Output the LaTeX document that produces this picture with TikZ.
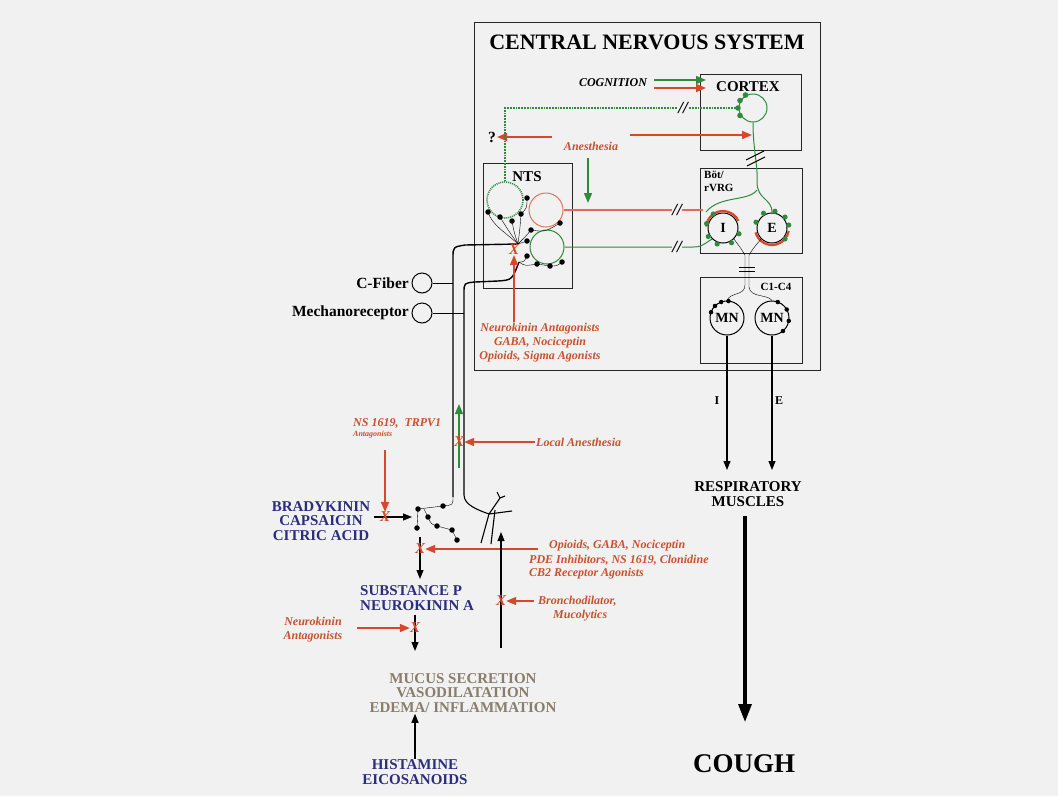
\documentclass[tikz,border=0pt]{standalone}
\usepackage{fontspec}
\setmainfont{Liberation Serif}
\usepackage{tikz}
\usetikzlibrary{arrows.meta,positioning,calc}
\definecolor{bgcol}{HTML}{F1F1F1}
\definecolor{drugred}{HTML}{C9512C}
\definecolor{arrred}{HTML}{D8472A}
\definecolor{nervgreen}{HTML}{2E8B3E}
\definecolor{agentblue}{HTML}{2C2D7E}
\definecolor{mucusgray}{HTML}{8A7D6B}

\begin{document}
\begin{tikzpicture}[x=1pt, y=-1pt,
    region/.style={draw=black!85, line width=1pt, inner sep=0pt},
    cnstitle/.style={font=\fontsize{22}{24}\selectfont\bfseries},
    lbl/.style={font=\fontsize{15.5}{17}\selectfont\bfseries, inner sep=1pt},
    small/.style={font=\fontsize{11}{12.5}\selectfont\bfseries, inner sep=1pt},
    agent/.style={font=\fontsize{15}{14.5}\selectfont\bfseries, text=agentblue, align=center, inner sep=1pt},
    drug/.style={font=\fontsize{12}{14}\selectfont\bfseries\itshape, text=drugred, align=center, inner sep=1pt},
    nrn/.style={circle, draw, line width=1pt, minimum size=30pt, inner sep=0pt, font=\fontsize{14}{14}\selectfont\bfseries},
    arr/.style={-{Triangle[length=9pt,width=7pt]}, line width=1.1pt},
    redarr/.style={-{Triangle[length=10pt,width=8pt]}, line width=1.8pt, draw=arrred, fill=arrred},
    grnarr/.style={-{Triangle[length=10pt,width=8pt]}, line width=1.4pt, draw=nervgreen, fill=nervgreen},
    axon/.style={line width=1.4pt},
    xmark/.style={text=arrred, font=\fontsize{15}{15}\selectfont\bfseries\itshape, inner sep=0pt},
    breakmark/.style={fill=bgcol, font=\fontsize{17}{17}\selectfont\bfseries\itshape, inner sep=0.3pt},
    syn/.style={circle, fill=black, inner sep=0pt, minimum size=5.5pt},
    gsyn/.style={fill=nervgreen}
]
\useasboundingbox (0,0) rectangle (1058,796);
\fill[bgcol] (0,0) rectangle (1058,796);

% CNS frame and nuclei
\node[region, minimum width=346, minimum height=348, anchor=north west] (cns) at (474,22) {};
\node[cnstitle] (cnstxt) at (647,42) {CENTRAL NERVOUS SYSTEM};
\node[region, minimum width=101, minimum height=76, anchor=north west] (cortex) at (700,74) {};
\node[region, minimum width=89, minimum height=125, anchor=north west] (nts) at (483,163) {};
\node[region, minimum width=102, minimum height=85, anchor=north west] (bot) at (700,168) {};
\node[region, minimum width=102, minimum height=86, anchor=north west] (cerv) at (700,277) {};
\node[lbl, font=\fontsize{15}{16}\selectfont\bfseries] (cortxt) at (748,87) {CORTEX};
\node[lbl, font=\fontsize{15}{16}\selectfont\bfseries] (ntstxt) at (527,177) {NTS};
\node[small, align=left, anchor=north west] (bottxt) at (703,170) {Böt/\\rVRG};
\node[small] (cervtxt) at (776,287) {C1-C4};

% neurons
\node[nrn, draw=nervgreen, minimum size=28] (ctxn) at (753,108) {};
\node[nrn, draw=nervgreen, densely dotted, line width=1.6pt, minimum size=36] (ntsd) at (505,200) {};
\node[nrn, draw=arrred!75, minimum size=34] (ntsr) at (546,210) {};
\node[nrn, draw=nervgreen, minimum size=34] (ntsg) at (547,247) {};
\node[nrn] (ni) at (723,228) {I};
\node[nrn] (ne) at (772,228) {E};
\node[nrn, minimum size=34, font=\fontsize{14}{14}\selectfont\bfseries] (mni) at (727,318) {MN};
\node[nrn, minimum size=34, font=\fontsize{14}{14}\selectfont\bfseries] (mne) at (772,318) {MN};

% cognition and anesthesia
\node[drug, text=black] (cog) at (613,83) {COGNITION};
\coordinate (cogs) at (654,80); \coordinate (cogg) at (706,80);
\coordinate (cogt) at (654,88); \coordinate (cogr) at (706,88);
\draw[grnarr] (cogs) -- (cogg);
\draw[redarr] (cogt) -- (cogr);
\node[drug] (anes) at (591,146) {Anesthesia};
\node[lbl] (qm) at (492,137) {?};
\coordinate (anesl) at (552,137); \coordinate (anesr) at (630,135); \coordinate (ctxin) at (752,135);
\draw[redarr] (anesl) -- (qm.east);
\draw[redarr] (anesr) -- (ctxin);
\coordinate (anesg0) at (588,158); \coordinate (anesg1) at (588,203);
\draw[grnarr] (anesg0) -- (anesg1);

% descending and ascending pathways
\draw[nervgreen, line width=1.8pt, densely dotted] (ctxn.west) -| (ntsd.north);
\node[breakmark] (brk1) at (683,108) {//};
\draw[nervgreen, line width=1pt] (ctxn.south) .. controls (753,150) and (758,165) .. (757,182)
    .. controls (757,200) and (772,198) .. (ne.north);
\draw[line width=1.1pt] (746,160) -- (764,151) (747,166) -- (765,157);
\draw[nervgreen, line width=1pt] (757,190) .. controls (748,202) and (720,195) .. (706,212);
\draw[arrred!80, line width=1.3pt] (ntsr.east) -- (703,210);
\draw[nervgreen, line width=1pt] (ntsg.east) -- (692,247) .. controls (700,247) .. (ni.south west);
\node[breakmark] (brk3) at (677,210) {//};
\node[breakmark] (brk4) at (677,247) {//};
\draw[arrred, line width=2.2pt] (ni.center) ++(185:17) arc[start angle=185, end angle=335, radius=17];
\draw[arrred, line width=2.2pt] (ne.center) ++(165:17) arc[start angle=165, end angle=10, radius=17];
\foreach \a in {110,150,195,235,60,20} \fill[gsyn] (ni.center) ++(\a:17) circle (2.6);
\foreach \a in {200,240,280,320,350,40} \fill[gsyn] (ne.center) ++(\a:17) circle (2.6);
\foreach \a in {150,180,210,240} \fill[gsyn] (ctxn.center) ++(\a:15) circle (2.8);

% I/E output to C1-C4 motoneurons
\draw (ni.south east) .. controls (742,250) .. (745,255) -- (745,285)
    .. controls (745,296) and (730,292) .. (mni.north);
\draw (ne.south west) .. controls (752,250) .. (749,255) -- (749,287)
    .. controls (750,298) and (768,294) .. (mne.north);
\draw[line width=1pt] (739,267) -- (755,267) (739,271) -- (755,271);
\foreach \a in {200,225,250,275} \node[syn, minimum size=4.5pt] at ($(mni.center)+(\a:17)$) {};
\foreach \a in {290,330,10,50} \node[syn, minimum size=4.5pt] at ($(mne.center)+(\a:17)$) {};

% respiratory output
\coordinate (rmi) at (727,470); \coordinate (rme) at (772,470);
\draw[arr] (mni.south) -- (rmi);
\draw[arr] (mne.south) -- (rme);
\node[small, font=\fontsize{12}{12}\selectfont\bfseries] (itxt) at (717,401) {I};
\node[small, font=\fontsize{12}{12}\selectfont\bfseries] (etxt) at (779,401) {E};
\node[lbl, font=\fontsize{15}{15}\selectfont\bfseries, align=center] (resp) at (748,494) {RESPIRATORY\\MUSCLES};
\node[lbl, font=\fontsize{27}{28}\selectfont\bfseries] (cough) at (744,764) {COUGH};
\coordinate (coughin) at (745,722);
\draw[-{Triangle[length=18pt,width=13pt]}, line width=3.2pt] (resp.south) ++(-3,8) -- (coughin);

% receptors and afferent axons
\node[circle, draw, line width=1pt, minimum size=20, inner sep=0pt] (cfc) at (422,283) {};
\node[lbl, anchor=east] (cft) at (410,283) {C-Fiber};
\node[circle, draw, line width=1pt, minimum size=20, inner sep=0pt] (mrc) at (422,313) {};
\node[lbl, anchor=east] (mrt) at (410,313) {Mechanoreceptor};
\coordinate (axa) at (453,497); \coordinate (axb) at (464,495);
\coordinate (ntsa) at (518,244); \coordinate (ntsb) at (519,262);
\draw[axon] (axa) -- (453,258) .. controls (453,247) .. (465,245) -- (ntsa);
\draw[axon] (axb) -- (464,293) .. controls (464,283) .. (475,282) -- (498,281) .. controls (512,280) .. (ntsb);
\draw[line width=1pt] (cfc.east) -- (cfc.east -| axa);
\draw[line width=1pt] (mrc.east) -- (mrc.east -| axb);

% NTS synapses
\foreach \p in {(488,212),(500,217),(512,221),(521,214),(527,198),(560,223),(531,230),(550,266),(537,264),(527,241),(527,256),(562,262)}
  \node[syn] at \p {};
\draw (ntsa) .. controls (505,232) and (492,225) .. (488,212);
\draw (ntsa) .. controls (508,230) .. (500,217);
\draw (ntsa) .. controls (514,232) .. (512,221);
\draw (ntsa) .. controls (520,228) .. (521,214);
\draw (521,214) .. controls (527,208) .. (527,198);
\draw (ntsa) .. controls (526,236) .. (531,230) .. controls (545,232) .. (560,223);
\draw (ntsa) -- (527,241);
\draw (ntsb) .. controls (524,262) .. (527,256);
\draw (ntsb) .. controls (525,266) .. (537,264) -- (550,266) .. controls (557,266) .. (562,262);

% peripheral endings
\draw (axa) .. controls (453,505) .. (443,506) -- (418,509) -- (417,528);
\draw (424,509) -- (428,517) .. controls (431,524) .. (437,526) -- (452,530) -- (457,540);
\foreach \p in {(443,506),(418,509),(428,517),(417,528),(437,526),(452,530),(457,540)}
  \node[syn] at \p {};
\draw[line width=1.1pt] (axb) .. controls (464,505) and (478,510) .. (489,514);
\draw[line width=1.1pt] (489,514) -- (500,498) -- (505,496);
\draw[line width=1.1pt] (489,514) -- (512,511);
\draw[line width=1.1pt] (489,514) -- (481,543);
\draw[line width=1.1pt] (495,510) -- (491,544);
\draw[line width=1.1pt] (500,498) -- (497,492);

% airway side: agents and effects
\node[agent] (brady) at (321,521) {BRADYKININ\\CAPSAICIN\\CITRIC ACID};
\coordinate (brady0) at (374,517); \coordinate (brady1) at (412,517);
\draw[arr] (brady0) -- (brady1);
\node[xmark] (x1) at (385,517) {X};
\node[drug, anchor=west] (ns) at (352,423) {NS 1619,\ \ TRPV1};
\node[drug, anchor=west, font=\fontsize{8}{9}\selectfont\bfseries\itshape] (nsant) at (352,435) {Antagonists};
\coordinate (ns0) at (385,450);
\draw[redarr] (ns0) -- (x1.north);

\coordinate (sp0) at (420,537); \coordinate (sp1) at (420,579);
\draw[arr] (sp0) -- (sp1);
\node[xmark] (x2) at (420,549) {X};
\coordinate (opi0) at (538,549);
\draw[redarr] (opi0) -- (opi0 -| x2.east);
\node[drug, anchor=west] (opi1) at (548,546) {Opioids, GABA, Nociceptin};
\node[drug, anchor=west] (opi2) at (528,560) {PDE Inhibitors, NS 1619, Clonidine};
\node[drug, anchor=west] (opi3) at (528,574) {CB2 Receptor Agonists};

\node[agent, align=left, anchor=west] (subp) at (359,598) {SUBSTANCE P\\NEUROKININ A};
\coordinate (nk0) at (415,615); \coordinate (nk1) at (415,651);
\draw[arr] (nk0) -- (nk1);
\node[xmark] (x3) at (415,628) {X};
\node[drug] (nkant) at (313,630) {Neurokinin\\Antagonists};
\coordinate (nka0) at (357,628);
\draw[redarr] (nka0) -- (nka0 -| x3.west);

\node[agent, text=mucusgray] (mucus) at (463,693) {MUCUS SECRETION\\VASODILATATION\\EDEMA/ INFLAMMATION};
\node[agent] (hist) at (415,772) {HISTAMINE\\EICOSANOIDS};
\draw[arr] (hist.north) -- (hist.north |- mucus.south);

\coordinate (br0) at (501,648); \coordinate (br1) at (501,532);
\draw[arr] (br0) -- (br1);
\node[xmark] (x4) at (501,601) {X};
\node[drug, align=left, anchor=west] (bronch) at (537,609) {Bronchodilator,\\\ \ \ \ \ Mucolytics};
\coordinate (bron0) at (534,601);
\draw[redarr, line width=1.4pt] (bron0) -- (bron0 -| x4.east);

% local and central blockade
\coordinate (la0) at (459,468); \coordinate (la1) at (459,404);
\draw[grnarr, line width=1.2pt] (la0) -- (la1);
\node[xmark] (x5) at (459,442) {X};
\node[drug, anchor=west] (locan) at (535,442) {Local Anesthesia};
\draw[redarr] (locan.west) -- (locan.west -| x5.east);

\node[xmark] (x6) at (514,250) {X};
\node[drug] (ntsdrug) at (540,343) {Neurokinin Antagonists\\GABA, Nociceptin\\Opioids, Sigma Agonists};
\draw[redarr, line width=1.4pt] (ntsdrug.north -| x6) -- (x6.south);
\end{tikzpicture}
\end{document}
